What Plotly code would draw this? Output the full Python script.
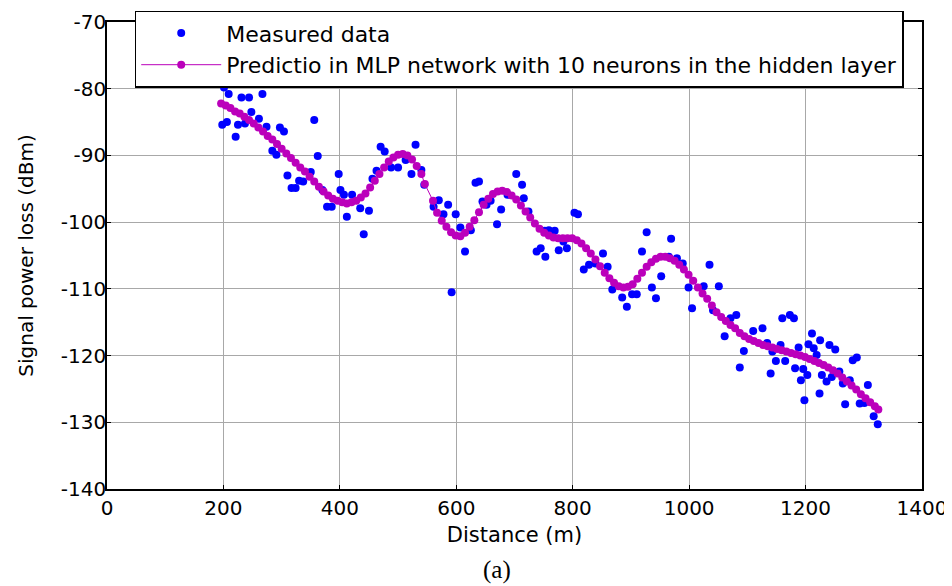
import plotly.graph_objects as go

# Measured data (distance m, signal power loss dBm)
meas_x = [198, 201, 206, 209, 221, 225, 231, 237, 244, 248, 261, 267, 274, 284, 291, 297, 304,
          310, 317, 324, 330, 337, 350, 356, 362, 370, 378, 386, 398, 401, 407, 412, 421, 435,
          441, 450, 456, 463, 470, 477, 488, 500, 513, 523, 530, 540, 545, 561, 570, 578, 586,
          592, 599, 607, 615, 625, 633, 639, 645, 652, 659, 670, 677, 688, 703, 713, 716, 724,
          738, 745, 752, 753, 759, 769, 776, 784, 790, 803, 809, 819, 828, 839, 852, 860, 868,
          885, 893, 902, 910, 919, 927, 936, 943, 952, 965, 969, 979, 989, 999, 1005, 1025,
          1035, 1041, 1051, 1061, 1071, 1081, 1087, 1094, 1110, 1126, 1134, 1140, 1143, 1149,
          1157, 1160, 1165, 1173, 1180, 1182, 1188, 1192, 1196, 1198, 1203, 1205, 1211, 1214,
          1219, 1224, 1225, 1228, 1236, 1241, 1245, 1251, 1258, 1264, 1268, 1276, 1281, 1288,
          1293, 1301, 1307, 1317, 1324]
meas_y = [-85.4, -79.8, -85.0, -80.8, -87.2, -85.4, -81.3, -85.2, -81.3, -83.5, -84.5, -80.8,
          -85.7, -89.3, -89.9, -85.8, -86.4, -93.0, -94.9, -94.9, -93.8, -93.9, -92.5, -84.7,
          -90.1, -95.2, -97.7, -97.7, -92.8, -95.2, -95.9, -99.2, -95.9, -97.9, -101.8, -98.3,
          -93.5, -92.3, -88.7, -89.4, -91.8, -91.8, -90.7, -92.8, -88.4, -92.2, -94.4, -97.7,
          -96.7, -98.8, -97.4, -110.5, -98.8, -100.8, -104.4, -101.2, -94.1, -93.9, -96.9,
          -97.4, -96.8, -100.3, -98.1, -95.9, -92.8, -94.4, -96.4, -98.4, -104.4, -103.9,
          -101.3, -105.2, -101.2, -101.3, -104.2, -102.9, -103.9, -98.6, -98.8, -107.1, -106.4,
          -106.2, -104.7, -106.7, -110.1, -111.3, -112.7, -110.8, -110.8, -104.4, -101.5,
          -109.8, -111.4, -108.1, -105.2, -102.5, -105.4, -106.2, -109.8, -112.9, -109.6,
          -106.4, -113.2, -109.6, -117.1, -114.4, -113.9, -121.8, -119.3, -116.3, -115.9,
          -118.1, -122.7, -119.4, -120.8, -118.4, -114.4, -120.8, -113.9, -114.4, -121.9,
          -118.8, -123.7, -122.0, -126.7, -122.9, -118.3, -116.7, -118.9, -119.9, -125.7,
          -117.7, -122.9, -123.9, -118.4, -123.2, -119.1, -122.4, -124.2, -127.3, -123.7,
          -120.7, -120.3, -127.2, -127.1, -124.4, -129.1, -130.3]

# MLP prediction
pred_x = [196, 204, 212, 220, 228, 236, 244, 252, 260, 268, 276, 284, 292, 300, 308, 316, 324,
          332, 340, 348, 356, 364, 372, 380, 388, 396, 404, 412, 420, 428, 436, 444, 452, 460,
          468, 476, 484, 492, 500, 508, 516, 524, 532, 540, 546, 560, 567, 575, 583, 591, 599,
          607, 615, 623, 631, 639, 647, 655, 663, 671, 679, 687, 695, 703, 711, 719, 727, 735,
          743, 751, 759, 767, 775, 783, 791, 799, 807, 815, 823, 831, 839, 847, 855, 863, 871,
          879, 887, 895, 903, 911, 919, 927, 935, 943, 951, 959, 967, 975, 983, 991, 999, 1007,
          1015, 1023, 1031, 1039, 1047, 1055, 1063, 1071, 1079, 1087, 1095, 1103, 1111, 1119,
          1127, 1135, 1143, 1151, 1159, 1167, 1175, 1183, 1191, 1199, 1207, 1215, 1223, 1231,
          1239, 1247, 1255, 1263, 1271, 1279, 1287, 1295, 1303, 1311, 1319, 1325]
pred_y = [-82.2, -82.5, -82.9, -83.4, -83.7, -84.2, -84.7, -85.2, -85.8, -86.4, -87.1, -87.6,
          -88.3, -89.0, -89.7, -90.4, -91.1, -91.8, -92.4, -93.2, -93.9, -94.7, -95.4, -96.0,
          -96.5, -96.8, -97.0, -97.2, -97.0, -96.8, -96.3, -95.7, -94.8, -93.8, -92.8, -91.8,
          -90.9, -90.3, -89.9, -89.8, -90.0, -90.6, -91.6, -92.8, -94.3, -96.8, -98.6, -99.8,
          -100.7, -101.5, -102.0, -102.1, -101.6, -100.7, -99.7, -98.5, -97.4, -96.5, -95.8,
          -95.4, -95.3, -95.5, -96.0, -96.6, -97.5, -98.4, -99.3, -100.2, -101.0, -101.6,
          -102.0, -102.3, -102.4, -102.4, -102.4, -102.4, -102.7, -103.2, -103.9, -104.7,
          -105.6, -106.6, -107.6, -108.4, -109.1, -109.6, -109.8, -109.7, -109.3, -108.5,
          -107.6, -106.7, -106.0, -105.5, -105.2, -105.2, -105.4, -105.8, -106.4, -107.1,
          -107.9, -108.8, -109.8, -110.7, -111.5, -112.5, -113.5, -114.2, -114.8, -115.4,
          -115.9, -116.6, -117.1, -117.5, -117.8, -118.1, -118.4, -118.6, -118.8, -119.0,
          -119.2, -119.4, -119.6, -119.8, -120.0, -120.2, -120.5, -120.8, -121.1, -121.4,
          -121.8, -122.2, -122.7, -123.3, -123.9, -124.5, -125.1, -125.8, -126.4, -127.0,
          -127.6, -128.1]

x_ticks = [0, 200, 400, 600, 800, 1000, 1200, 1400]
y_ticks = [-140, -130, -120, -110, -100, -90, -80, -70]

FONT = "DejaVu Sans"

fig = go.Figure()
fig.add_trace(go.Scatter(
    x=meas_x, y=meas_y, mode="markers", name="Measured data",
    marker=dict(color="#0000ff", size=8, line=dict(width=0)),
))
fig.add_trace(go.Scatter(
    x=pred_x, y=pred_y, mode="lines+markers",
    name="Predictio in MLP network with 10 neurons in the hidden layer",
    line=dict(color="#bb00bb", width=1),
    marker=dict(color="#bb00bb", size=8, line=dict(width=0)),
))

axis_common = dict(
    showline=True, linecolor="black", linewidth=1.5, mirror="ticks",
    ticks="inside", ticklen=4, tickcolor="black",
    showgrid=True, gridcolor="#a8a8a8", gridwidth=1,
    zeroline=False, automargin=False,
    tickfont=dict(family=FONT, size=20, color="black"),
)

fig.update_xaxes(range=[0, 1400], tickvals=x_ticks, ticktext=[str(v) for v in x_ticks],
                 title=dict(text="Distance (m)", font=dict(family=FONT, size=21, color="black"),
                            standoff=9),
                 **axis_common)
fig.update_yaxes(range=[-140, -70], tickvals=y_ticks, ticktext=[str(v) for v in y_ticks],
                 title=dict(text="Signal power loss (dBm)",
                            font=dict(family=FONT, size=20, color="black"), standoff=22),
                 ticklabelstandoff=-5,
                 **axis_common)

# page body has an 8 px margin, so the figure is 8 px smaller and shifted
fig.update_layout(
    width=944, height=578,
    margin=dict(l=99, r=30, t=14, b=97, autoexpand=False),
    paper_bgcolor="white", plot_bgcolor="white",
    showlegend=True,
    legend=dict(
        x=0.034, y=1.024, xanchor="left", yanchor="top",
        bgcolor="white", bordercolor="black", borderwidth=1.5,
        font=dict(family=FONT, size=22, color="black"),
        itemwidth=80, tracegroupgap=0,
    ),
    annotations=[dict(
        text="(a)", xref="paper", yref="paper", x=0.478, y=-0.173,
        xanchor="center", yanchor="middle", showarrow=False,
        font=dict(family="Liberation Serif", size=25, color="black"),
    )],
)

fig.write_html("out.html")
